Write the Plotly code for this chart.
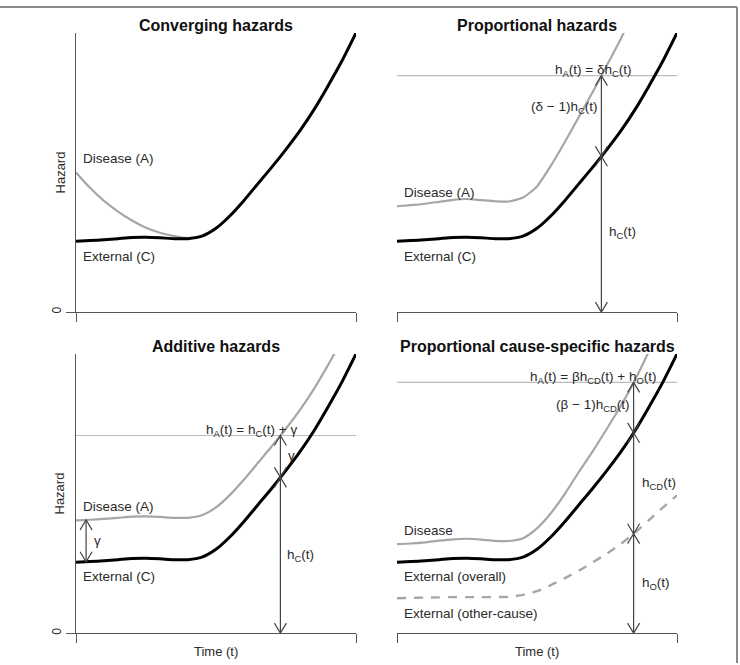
import numpy as np
import plotly.graph_objects as go

# ---------------- data ----------------
T = [0.00, 0.05, 0.10, 0.15, 0.20, 0.25, 0.30, 0.35, 0.40, 0.45, 0.50,
     0.55, 0.60, 0.65, 0.70, 0.75, 0.80, 0.85, 0.90, 0.95, 1.00]

# external (C) hazard – the black curve, same in every panel
H_EXTERNAL = [0.254, 0.256, 0.259, 0.263, 0.267, 0.268, 0.266, 0.263, 0.263, 0.272, 0.300,
              0.345, 0.400, 0.460, 0.520, 0.583, 0.650, 0.725, 0.810, 0.900, 1.000]

# panel 1: converging hazards – disease curve (merges with external)
T_CONV = [0.00, 0.05, 0.10, 0.15, 0.20, 0.25, 0.30, 0.35, 0.40, 0.45]
H_DISEASE_CONV = [0.500, 0.445, 0.398, 0.360, 0.328, 0.302, 0.284, 0.272, 0.265, 0.272]

# panel 2: proportional hazards – disease curve
T_PROP = [0.00, 0.05, 0.10, 0.15, 0.20, 0.25, 0.30, 0.35, 0.40, 0.45, 0.50,
          0.55, 0.60, 0.65, 0.70, 0.75, 0.80, 0.85]
H_DISEASE_PROP = [0.379, 0.383, 0.388, 0.395, 0.402, 0.405, 0.401, 0.397, 0.396, 0.410, 0.450,
                  0.525, 0.610, 0.700, 0.790, 0.885, 0.980, 1.090]

# panel 3: additive hazards – disease curve
T_ADD = [0.00, 0.05, 0.10, 0.15, 0.20, 0.25, 0.30, 0.35, 0.40, 0.45, 0.50,
         0.55, 0.60, 0.65, 0.70, 0.75, 0.80, 0.85, 0.90, 0.95]
H_DISEASE_ADD = [0.404, 0.406, 0.409, 0.413, 0.417, 0.418, 0.416, 0.413, 0.413, 0.422, 0.450,
                 0.495, 0.550, 0.610, 0.670, 0.733, 0.800, 0.875, 0.960, 1.050]

# panel 4: proportional cause-specific hazards
T_PCS = [0.00, 0.05, 0.10, 0.15, 0.20, 0.25, 0.30, 0.35, 0.40, 0.45, 0.50,
         0.55, 0.60, 0.65, 0.70, 0.75, 0.80, 0.85, 0.90, 0.95]
H_DISEASE_PCS = [0.319, 0.321, 0.325, 0.331, 0.336, 0.338, 0.335, 0.330, 0.330, 0.340, 0.375,
                 0.430, 0.500, 0.578, 0.653, 0.733, 0.815, 0.907, 1.010, 1.120]
H_OTHER_CAUSE = [0.125, 0.126, 0.127, 0.128, 0.129, 0.129, 0.129, 0.129, 0.130, 0.137, 0.150,
                 0.172, 0.197, 0.224, 0.254, 0.285, 0.320, 0.360, 0.405, 0.450, 0.493]

# time points where the annotation arrows are drawn
T_ARROW_PROP = 0.73
T_ARROW_ADD = 0.73
T_ARROW_GAMMA = 0.036
T_ARROW_PCS = 0.845

TITLES = ["Converging hazards", "Proportional hazards",
          "Additive hazards", "Proportional cause-specific hazards"]

# ---------------- style ----------------
BLACK = "#000000"
GRAY = "#a6a6a6"
REF_GRAY = "#bdbdbd"
AX = "#555555"
TXT = "#2a2a2a"
FONT = "Liberation Sans, Arial, sans-serif"
W, H = 740, 665
PX_PER_UNIT = 280.0  # panel size in pixels for one data unit (both axes)
LBL = 13.5
MATH = 13.5

# panel pixel boxes: (left, right, top, bottom)
BOXES = {1: (76, 356, 33, 313), 2: (397, 677, 33, 313),
         3: (76, 356, 355, 635), 4: (397, 677, 355, 635)}

fig = go.Figure()
layout = dict(width=W, height=H, margin=dict(l=0, r=0, t=0, b=0),
              paper_bgcolor="white", plot_bgcolor="rgba(0,0,0,0)",
              showlegend=False, font=dict(family=FONT, color=TXT))

for i, (l, r, t, b) in BOXES.items():
    sx = "" if i == 1 else str(i)
    left_panel = i in (1, 3)
    layout["xaxis" + sx] = dict(domain=[l / W, r / W], range=[0, 1], anchor="y" + sx,
                                showgrid=False, zeroline=False, showline=True,
                                linecolor=AX, linewidth=1.3, ticks="outside",
                                tickvals=[0, 1], ticklen=9, tickwidth=1.3, tickcolor=AX,
                                showticklabels=False, fixedrange=True)
    layout["yaxis" + sx] = dict(domain=[(H - b) / H, (H - t) / H], range=[0, 1],
                                anchor="x" + sx, showgrid=False, zeroline=False,
                                showline=left_panel, linecolor=AX, linewidth=1.3,
                                ticks="outside" if left_panel else "",
                                tickvals=[0], ticktext=["0"], tickangle=-90,
                                ticklen=9, tickwidth=1.3, tickcolor=AX,
                                showticklabels=left_panel,
                                tickfont=dict(size=12, color=TXT), fixedrange=True)
fig.update_layout(**layout)


def ax(i):
    return ("x" if i == 1 else "x" + str(i)), ("y" if i == 1 else "y" + str(i))


def curve(i, x, y, color, width, dash=None):
    xa, ya = ax(i)
    fig.add_trace(go.Scatter(x=x, y=y, mode="lines", xaxis=xa, yaxis=ya,
                             line=dict(color=color, width=width, dash=dash,
                                       shape="spline", smoothing=0.6),
                             hoverinfo="skip"))


def hline(i, level):
    xa, ya = ax(i)
    fig.add_trace(go.Scatter(x=[0, 1], y=[level, level], mode="lines", xaxis=xa, yaxis=ya,
                             line=dict(color=REF_GRAY, width=1.2), hoverinfo="skip"))


def double_arrow(i, tx, y0, y1, L=10, HW=6):
    """vertical double-headed arrow between y0 (low) and y1 (high), open V heads"""
    xa, ya = ax(i)
    l, hw = L / PX_PER_UNIT, HW / PX_PER_UNIT
    xs = [tx, tx, None, tx - hw, tx, tx + hw, None, tx - hw, tx, tx + hw]
    ys = [y0, y1, None, y1 - l, y1, y1 - l, None, y0 + l, y0, y0 + l]
    fig.add_trace(go.Scatter(x=xs, y=ys, mode="lines", xaxis=xa, yaxis=ya,
                             line=dict(color="#444444", width=1.2), hoverinfo="skip"))


def label(i, x, y, text, xanchor="left", size=LBL, yanchor="middle"):
    xa, ya = ax(i)
    fig.add_annotation(x=x, y=y, xref=xa, yref=ya, text=text, showarrow=False,
                       xanchor=xanchor, yanchor=yanchor,
                       font=dict(size=size, color=TXT, family=FONT))


def interp(t, ts, hs):
    return float(np.interp(t, ts, hs))


# ---------- panel 1: converging ----------
curve(1, T_CONV, H_DISEASE_CONV, GRAY, 2.2)
curve(1, T, H_EXTERNAL, BLACK, 3)
label(1, 0.018, 0.55, "Disease (A)")
label(1, 0.018, 0.20, "External (C)")

# ---------- panel 2: proportional ----------
hc2 = interp(T_ARROW_PROP, T, H_EXTERNAL)
ha2 = interp(T_ARROW_PROP, T_PROP, H_DISEASE_PROP)
hline(2, ha2)
curve(2, T_PROP, H_DISEASE_PROP, GRAY, 2.2)
curve(2, T, H_EXTERNAL, BLACK, 3)
double_arrow(2, T_ARROW_PROP, 0, hc2)
double_arrow(2, T_ARROW_PROP, hc2, ha2)
label(2, 0.018, 0.43, "Disease (A)")
label(2, 0.018, 0.20, "External (C)")
label(2, 0.70, ha2 + 0.018, "h<sub>A</sub>(t) = δh<sub>C</sub>(t)", xanchor="center", size=MATH)
label(2, T_ARROW_PROP - 0.005, 0.732, "(δ − 1)h<sub>C</sub>(t)", xanchor="right", size=MATH)
label(2, 0.75, 0.286, "h<sub>C</sub>(t)", size=MATH)

# ---------- panel 3: additive ----------
hc3 = interp(T_ARROW_ADD, T, H_EXTERNAL)
ha3 = interp(T_ARROW_ADD, T_ADD, H_DISEASE_ADD)
hline(3, ha3)
curve(3, T_ADD, H_DISEASE_ADD, GRAY, 2.2)
curve(3, T, H_EXTERNAL, BLACK, 3)
double_arrow(3, T_ARROW_ADD, 0, hc3)
double_arrow(3, T_ARROW_ADD, hc3, ha3)
double_arrow(3, T_ARROW_GAMMA, interp(T_ARROW_GAMMA, T, H_EXTERNAL),
             interp(T_ARROW_GAMMA, T_ADD, H_DISEASE_ADD))
label(3, 0.018, 0.454, "Disease (A)")
label(3, 0.018, 0.204, "External (C)")
label(3, 0.625, ha3 + 0.018, "h<sub>A</sub>(t) = h<sub>C</sub>(t) + γ", xanchor="center", size=MATH)
label(3, T_ARROW_ADD + 0.02, 0.636, "γ", size=MATH)
label(3, T_ARROW_GAMMA + 0.02, 0.33, "γ", size=MATH)
label(3, 0.745, 0.279, "h<sub>C</sub>(t)", size=MATH)

# ---------- panel 4: proportional cause-specific ----------
ho4 = interp(T_ARROW_PCS, T, H_OTHER_CAUSE)
hc4 = interp(T_ARROW_PCS, T, H_EXTERNAL)
ha4 = interp(T_ARROW_PCS, T_PCS, H_DISEASE_PCS)
hline(4, ha4)
curve(4, T, H_OTHER_CAUSE, GRAY, 2.4, dash="9px,8px")
curve(4, T_PCS, H_DISEASE_PCS, GRAY, 2.2)
curve(4, T, H_EXTERNAL, BLACK, 3)
double_arrow(4, T_ARROW_PCS, 0, ho4)
double_arrow(4, T_ARROW_PCS, ho4, hc4)
double_arrow(4, T_ARROW_PCS, hc4, ha4)
label(4, 0.018, 0.368, "Disease")
label(4, 0.018, 0.204, "External (overall)")
label(4, 0.018, 0.071, "External (other-cause)")
label(4, 0.70, ha4 + 0.018, "h<sub>A</sub>(t) = βh<sub>CD</sub>(t) + h<sub>O</sub>(t)",
      xanchor="center", size=MATH)
label(4, T_ARROW_PCS - 0.004, 0.814, "(β − 1)h<sub>CD</sub>(t)", xanchor="right", size=MATH)
label(4, 0.868, 0.536, "h<sub>CD</sub>(t)", size=MATH)
label(4, 0.868, 0.179, "h<sub>O</sub>(t)", size=MATH)

# ---------- titles and axis titles ----------
for i, title in enumerate(TITLES, start=1):
    l, r, t, b = BOXES[i]
    fig.add_annotation(x=(l + r) / 2 / W, y=(H - (t - 7)) / H, xref="paper", yref="paper",
                       text="<b>" + title + "</b>", showarrow=False,
                       xanchor="center", yanchor="middle",
                       font=dict(size=16, color="#111111", family=FONT))
for i in (1, 3):
    l, r, t, b = BOXES[i]
    fig.add_annotation(x=60 / W, y=(H - (t + b) / 2) / H, xref="paper", yref="paper",
                       text="Hazard", textangle=-90, showarrow=False,
                       xanchor="center", yanchor="middle",
                       font=dict(size=13, color=TXT, family=FONT))
for i in (3, 4):
    l, r, t, b = BOXES[i]
    fig.add_annotation(x=(l + r) / 2 / W, y=(H - 653) / H, xref="paper", yref="paper",
                       text="Time (t)", showarrow=False, xanchor="center", yanchor="middle",
                       font=dict(size=13, color=TXT, family=FONT))

# ---------- outer frame (top and right edges) ----------
fig.add_shape(type="line", xref="paper", yref="paper", x0=0, x1=737 / W,
              y0=(H - 7) / H, y1=(H - 7) / H, line=dict(color="#8a8a8a", width=2))
fig.add_shape(type="line", xref="paper", yref="paper", x0=737 / W, x1=737 / W,
              y0=0, y1=(H - 7) / H, line=dict(color="#8a8a8a", width=2))

fig.write_html("out.html")
